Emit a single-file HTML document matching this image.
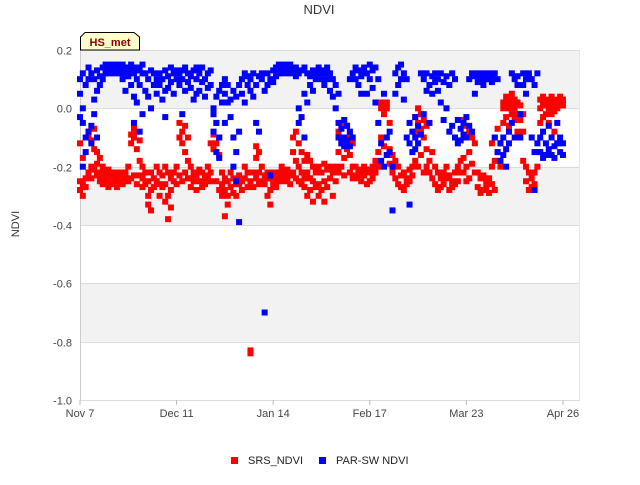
<!DOCTYPE html>
<html><head><meta charset="utf-8"><style>
body{margin:0;background:#fff;font-family:"Liberation Sans",sans-serif}
svg text{font-family:"Liberation Sans",sans-serif}
</style></head><body>
<svg id="c" width="640" height="480" xmlns="http://www.w3.org/2000/svg">
<rect width="640" height="480" fill="#fff"/>
<text x="319" y="14" text-anchor="middle" font-size="13" fill="#333">NDVI</text>
<text transform="translate(19,224) rotate(-90)" text-anchor="middle" font-size="11" fill="#333">NDVI</text>
<g id="bands"></g><g id="grid"></g><g id="ticks"></g><g id="marks"></g>
<g>
<path d="M80.5,50 L80.5,37 L85,32.5 L134,32.5 L139.5,37 L139.5,50 Z" fill="#ffffcc" stroke="#000" stroke-width="1"/>
<text x="110" y="46" text-anchor="middle" font-size="11" font-weight="bold" fill="#8b0000">HS_met</text>
</g>
<g>
<rect x="231" y="457" width="7" height="7" fill="#ff0000"/>
<text x="248" y="464" font-size="11" fill="#222">SRS_NDVI</text>
<rect x="319" y="457" width="7" height="7" fill="#0000ff"/>
<text x="336" y="464" font-size="11" fill="#222">PAR-SW NDVI</text>
</g>
</svg>
<script>
const yTicks=[0.2,0.0,-0.2,-0.4,-0.6,-0.8,-1.0];
const yTickLabels=["0.2","0.0","-0.2","-0.4","-0.6","-0.8","-1.0"];
const xTickDays=[0,34,68,102,136,170];
const xTickLabels=["Nov 7","Dec 11","Jan 14","Feb 17","Mar 23","Apr 26"];
const srsByDay=[
[-0.25,-0.28,-0.12],[-0.26,-0.3,-0.17],[-0.24,-0.27],[-0.08,-0.22,-0.1],[-0.11,-0.2,-0.24],[-0.07,-0.14,-0.21],[-0.15,-0.19,-0.23],[-0.17,-0.22,-0.25],[-0.2,-0.24,-0.26],[-0.22,-0.25],
[-0.21,-0.24,-0.27],[-0.23,-0.26],[-0.22,-0.25],[-0.24,-0.27],[-0.22,-0.25],[-0.23,-0.26],[-0.22,-0.24],[-0.2,-0.25],[-0.09,-0.12,-0.24],[-0.07,-0.1,-0.23],
[-0.08,-0.14,-0.26],[-0.11,-0.18,-0.23],[-0.2,-0.24,-0.27],[-0.22,-0.26],[-0.25,-0.3,-0.33],[-0.22,-0.28,-0.35],[-0.24,-0.27],[-0.2,-0.25],[-0.22,-0.26,-0.3],[-0.23,-0.27],
[-0.2,-0.26,-0.32],[-0.22,-0.3,-0.38],[-0.24,-0.28,-0.34],[-0.22,-0.25],[-0.2,-0.26],[-0.05,-0.1,-0.23],[-0.08,-0.12,-0.25],[-0.06,-0.15,-0.22],[-0.1,-0.18,-0.24],[-0.2,-0.24,-0.27],
[-0.22,-0.25],[-0.23,-0.28],[-0.21,-0.25],[-0.22,-0.27],[-0.24,-0.26],[-0.2,-0.23],[-0.12,-0.22,-0.25],[-0.02,-0.09,-0.14],[-0.05,-0.12,-0.25],[-0.1,-0.16,-0.28],
[-0.22,-0.26,-0.3],[-0.24,-0.28,-0.37],[-0.25,-0.3,-0.33],[-0.22,-0.27],[-0.24,-0.29],[-0.26,-0.3],[-0.23,-0.26],[-0.25,-0.28],[-0.2,-0.24],[-0.22,-0.27],
[-0.83,-0.84,-0.25],[-0.22,-0.27],[-0.13,-0.17,-0.24],[-0.15,-0.22,-0.26],[-0.2,-0.25],[-0.23,-0.26],[-0.22,-0.24,-0.3],[-0.24,-0.28,-0.33],[-0.22,-0.26],[-0.24,-0.27],
[-0.22,-0.25],[-0.2,-0.24],[-0.22,-0.25],[-0.21,-0.24],[-0.23,-0.26],[-0.1,-0.15,-0.22],[-0.08,-0.18,-0.24],[-0.12,-0.2,-0.25],[-0.15,-0.22,-0.26],[-0.18,-0.24,-0.27],
[-0.16,-0.22,-0.3],[-0.18,-0.24,-0.28],[-0.2,-0.25,-0.32],[-0.22,-0.27],[-0.2,-0.26,-0.3],[-0.22,-0.28],[-0.19,-0.25,-0.32],[-0.21,-0.27],[-0.2,-0.24],[-0.22,-0.3],
[-0.2,-0.25],[-0.08,-0.15,-0.22],[-0.05,-0.12,-0.2],[-0.1,-0.17,-0.23],[-0.06,-0.14],[-0.09,-0.16,-0.22],[-0.12,-0.2,-0.24],[-0.2,-0.23],[-0.21,-0.24],[-0.22,-0.25],
[-0.2,-0.23],[-0.21,-0.26],[-0.22,-0.25],[-0.2,-0.24],[-0.18,-0.22],[-0.15,-0.2],[0.02,0.0,-0.1],[0.01,-0.02,-0.13],[0.02,0.0,-0.16],[-0.05,-0.14,-0.19],
[-0.16,-0.22],[-0.18,-0.24],[-0.2,-0.26],[-0.23,-0.27],[-0.22,-0.28],[-0.24,-0.26],[-0.21,-0.25],[-0.2,-0.23],[-0.03,-0.08,-0.18],[0.0,-0.05,-0.2],
[-0.02,-0.07,-0.16],[-0.04,-0.1,-0.22],[-0.06,-0.14,-0.2],[-0.18,-0.22],[-0.15,-0.24],[-0.2,-0.26],[-0.22,-0.28],[-0.24,-0.27],[-0.22,-0.26],[-0.2,-0.24],
[-0.23,-0.28],[-0.25,-0.27],[-0.22,-0.26],[-0.2,-0.25],[-0.18,-0.22],[-0.04,-0.17,-0.22],[-0.06,-0.2,-0.25],[-0.08,-0.15,-0.24],[-0.1,-0.19],[-0.12,-0.22],
[-0.22,-0.27],[-0.24,-0.29],[-0.23,-0.28],[-0.25,-0.27],[-0.24,-0.29],[-0.12,-0.2,-0.26],[-0.1,-0.18,-0.28],[-0.07,-0.15],[-0.12,-0.2],[0.02,0.0,-0.05],
[0.04,0.01,-0.03],[0.03,0.0,-0.06],[0.05,0.02,-0.02],[0.03,0.0,-0.04],[0.02,-0.02,-0.08],[0.01,-0.04],[-0.02,-0.08,-0.18],[-0.2,-0.25],[-0.22,-0.28],[-0.24,-0.27],
[-0.22,-0.26],[-0.15,-0.2],[0.03,0.0,-0.05],[0.04,0.01,-0.03],[0.02,-0.02],[0.03,0.0,-0.05],[0.04,0.01,-0.02],[0.02,-0.01,-0.08],[0.03,0.0,-0.12],[0.04,0.02],
[0.03,0.01]];
const parByDay=[
[0.1,0.05,-0.03],[0.12,0.0,-0.05,-0.2],[0.08,-0.1,-0.15],[0.14,0.1,-0.08],[0.12,-0.12,-0.06],[0.1,0.03,-0.02],[0.13,0.06,-0.1],[0.11,0.08],[0.14,0.1],[0.12,0.15],
[0.14,0.12],[0.13,0.15],[0.14,0.12],[0.15,0.13],[0.12,0.14],[0.13,0.15,0.1],[0.12,0.14,0.06],[0.14,0.11],[0.13,0.15,0.08],[0.12,0.04,-0.05],
[0.14,0.1,0.02],[0.13,0.08,-0.08],[0.15,0.12,-0.02],[0.12,0.06],[0.1,0.04],[0.13,0.0],[0.12,0.08],[0.1,0.05],[0.12,0.08],[0.1,0.03],
[0.13,0.06,-0.03],[0.11,0.07],[0.14,0.09],[0.12,0.05],[0.1,0.13],[0.12,0.08],[0.13,0.1,-0.02],[0.14,0.06],[0.12,0.09],[0.11,0.07],
[0.13,0.03],[0.1,0.14,0.05],[0.12,0.06],[0.14,0.09],[0.1,0.04],[0.12,0.07],[0.13,0.08],[-0.02,-0.08,0.0],[-0.05,-0.15,0.04],[-0.1,0.06,-0.17],
[0.08,0.02],[0.05,0.1,-0.05],[0.08,0.02],[0.03,-0.03],[-0.1,-0.2,0.06],[-0.15,-0.25,0.04],[-0.08,-0.39,0.08],[0.1,0.05],[0.12,0.02],[0.08,0.11],
[0.1,0.06],[0.12,0.04],[0.08,-0.05],[0.11,-0.08],[0.1,0.12],[-0.7,0.06],[0.12,0.08],[0.1,-0.23],[0.13,0.09],[0.14,0.11],
[0.15,0.12],[0.14,0.12],[0.15,0.13],[0.14,0.12],[0.13,0.15],[0.12,0.14],[0.14,0.11],[0.12,0.0,-0.05],[0.13,-0.03],[0.14,0.05,-0.1],
[0.12,0.02],[0.11,0.08],[0.13,0.06],[0.12,0.1],[0.14,0.12],[0.13,0.1],[0.12,0.08],[0.14,0.1],[0.12,0.06],[0.1,0.04],
[0.08,0.0],[-0.05,-0.1,0.05],[-0.07,-0.12],[-0.04,-0.1,-0.13],[-0.06,-0.11],[-0.08,-0.13,0.1],[0.12,-0.1],[0.14,0.1],[0.13,0.08],[0.11,0.05],
[0.14,0.12],[0.12,0.05],[0.15,0.1],[0.13,0.07],[0.14,0.02],[0.1,-0.05],[-0.12,-0.18],[0.05,-0.2],[-0.1,-0.16],[-0.15,-0.08],
[-0.2,-0.35],[0.12,0.05],[0.14,0.08],[0.15,0.1],[0.12,0.03],[0.1,-0.1],[-0.05,-0.12,-0.33],[-0.08,-0.15],[-0.03,-0.1,-0.14],[-0.06,-0.12],
[0.12,-0.09],[0.1,-0.02],[0.12,0.06],[0.08,-0.05],[0.11,0.05],[0.12,0.09],[0.1,0.06],[0.12,0.02],[0.09,-0.04],[0.11,0.0],
[0.08,-0.08],[0.12,-0.06],[0.1,-0.1],[-0.04,-0.12],[-0.07,-0.11],[-0.09,-0.05],[-0.03,-0.1],[0.1,-0.06],[0.12,-0.08],[0.11,0.05],
[0.12,0.09],[0.11,0.1],[0.12,0.08],[0.1,0.11],[0.12,0.1],[0.11,0.09],[0.12,-0.1],[0.1,-0.15],[-0.12,-0.18],[-0.1,-0.16],
[-0.14,-0.2],[-0.08,-0.12],[0.12,-0.05],[0.1,-0.1],[0.11,0.08],[-0.02,-0.1],[0.12,0.08],[0.1,0.05],[0.11,0.12],[0.1,-0.1],
[0.08,-0.15,-0.28],[0.12,-0.12],[-0.1,-0.15],[-0.08,-0.17],[-0.12,-0.16],[-0.06,-0.14],[-0.1,-0.16],[-0.13,-0.17],[-0.05,-0.12],[-0.1,-0.15],
[-0.12,-0.16]];

const NS="http://www.w3.org/2000/svg";
const L=80,R=580,T=50,B=400,vMax=0.2,vMin=-1.0,dayMax=176;
function xs(d){return L+(d/dayMax)*(R-L);}
function ys(v){return T+(vMax-v)/(vMax-vMin)*(B-T);}
function mk(tag,attrs,parent){const e=document.createElementNS(NS,tag);for(const k in attrs)e.setAttribute(k,attrs[k]);parent.appendChild(e);return e;}
const bands=document.getElementById('bands'),grid=document.getElementById('grid'),ticks=document.getElementById('ticks'),marks=document.getElementById('marks');
for(let i=0;i<yTicks.length-1;i+=2){
  const r=mk('rect',{x:L,y:ys(yTicks[i]),width:R-L,height:ys(yTicks[i+1])-ys(yTicks[i]),fill:'#f2f2f2'},bands);
  
  
}
yTicks.forEach((v,i)=>{
  const y=Math.round(ys(v))+0.5;
  const g=mk('line',{x1:L,x2:R,y1:y,y2:y,stroke:'#dcdcdc','stroke-width':1},grid);
  
  
  const t=mk('text',{x:72,y:y+4,'text-anchor':'end','font-size':11,fill:'#444'},ticks);
  t.textContent=yTickLabels[i];
  
  
});
const ax=mk('line',{x1:L+0.5,x2:L+0.5,y1:T,y2:B,stroke:'#ccc'},grid);


const rx=mk('line',{x1:R-0.5,x2:R-0.5,y1:T,y2:B,stroke:'#e6e6e6'},grid);


xTickDays.forEach((d,i)=>{
  const x=xs(d);
  const tk=mk('line',{x1:x,x2:x,y1:B,y2:B+5,stroke:'#bbb'},ticks);
  
  
  const t=mk('text',{x:x,y:B+17,'text-anchor':'middle','font-size':11,fill:'#444'},ticks);
  t.textContent=xTickLabels[i];
  
  
});
function draw(series,color,name){
  series.forEach((vals,d)=>{vals.forEach(v=>{
    const r=mk('rect',{x:xs(d)-3,y:ys(v)-3,width:6,height:6,fill:color},marks);
    
    
  });});
}
draw(srsByDay,'#ff0000','srs-ndvi-point');
draw(parByDay,'#0000ff','par-sw-ndvi-point');
</script>
</body></html>
